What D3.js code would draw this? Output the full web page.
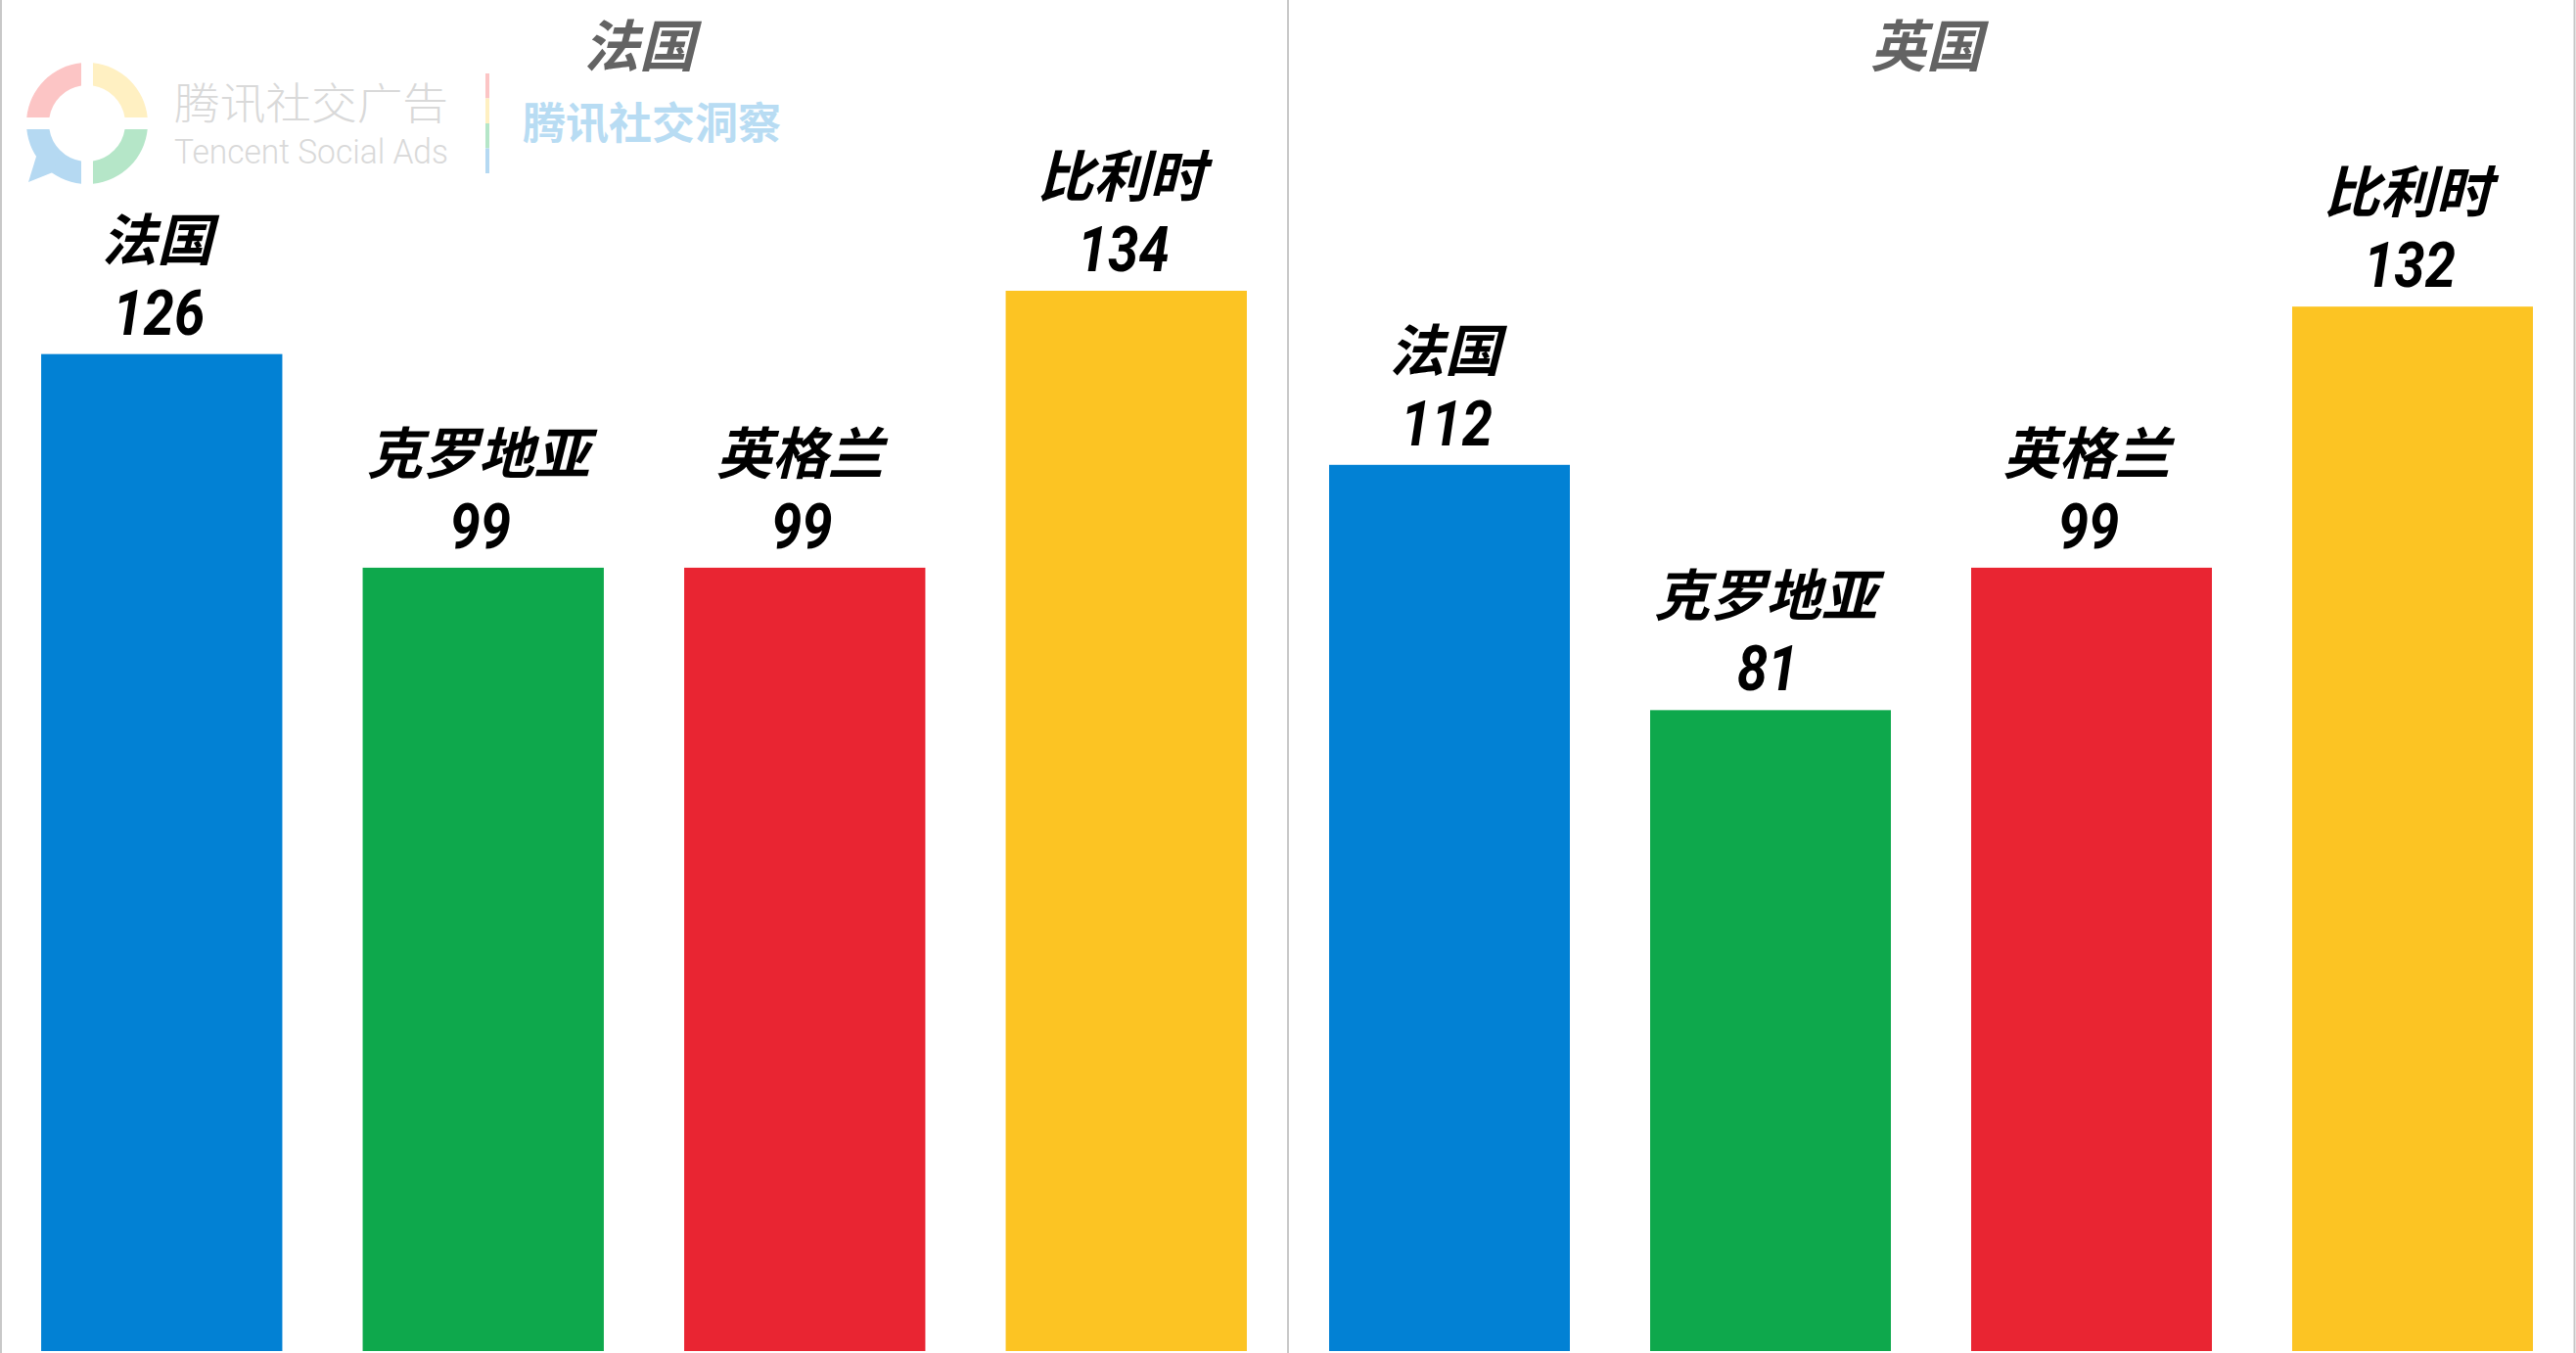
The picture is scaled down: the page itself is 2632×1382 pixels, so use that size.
<!DOCTYPE html>
<html>
<head>
<meta charset="utf-8">
<script src="https://cdn.jsdelivr.net/npm/d3@7"></script>
<style>
    html, body { margin: 0; padding: 0; background: #fff; overflow: hidden; }
    svg { display: block; }
</style>
</head>
<body>
<div id="visContainer"></div>
<script>
const panelTitles = ["法国", "英国"];
const categories = ["法国", "克罗地亚", "英格兰", "比利时"];
const franceValues = [126, 99, 99, 134];
const britainValues = [112, 81, 99, 132];
const barColors = ["#0281d4", "#0ea84c", "#e92532", "#fcc423"];
const ringColors = ["#fff0c2", "#b5e6c8", "#b5d9f2", "#fcc5c5"];
const stripColors = ["#fcc5c5", "#fff0c2", "#b5e6c8", "#b5d9f2"];

const width = 2632;
const height = 1382;
const cjk = "'Noto Sans CJK SC', 'Noto Sans', sans-serif";
const digits = "Roboto, sans-serif";

const svg = d3.select("#visContainer").append("svg")
    .attr("width", width)
    .attr("height", height)
    .attr("viewBox", `0 0 ${width} ${height}`);

const y = d3.scaleLinear()
    .domain([0, d3.max(franceValues)])
    .range([1380, 297]);

const color = d3.scaleOrdinal().domain(categories).range(barColors);

function drawPanel(title, values, x0, x1) {
    const x = d3.scaleBand()
        .domain(categories)
        .range([x0, x1])
        .padding(0.25)
        .paddingOuter(0.125);

    const rows = categories.map((c, i) => ({ name: c, value: values[i] }));
    const mid = d => x(d.name) + x.bandwidth() / 2;
    const g = svg.append("g");

    g.append("text")
        .attr("x", (x0 + x1) / 2 - 5)
        .attr("y", 68)
        .attr("text-anchor", "middle")
        .style("font", `italic bold 57px ${cjk}`)
        .style("fill", "#636363")
        .text(title);

    g.selectAll("rect")
        .data(rows)
        .join("rect")
        .attr("x", d => x(d.name))
        .attr("y", d => y(d.value))
        .attr("width", x.bandwidth())
        .attr("height", d => y(0) - y(d.value))
        .attr("fill", d => color(d.name));

    // category name above the number
    g.selectAll("text.cat")
        .data(rows)
        .join("text")
        .attr("class", "cat")
        .attr("x", d => mid(d) - 5)
        .attr("y", d => y(d.value) - 96)
        .attr("text-anchor", "middle")
        .style("font", `italic bold 57px ${cjk}`)
        .style("fill", "#000")
        .text(d => d.name);

    // digits in the picture are narrower than Roboto, so squeeze them
    g.selectAll("text.num")
        .data(rows)
        .join("text")
        .attr("class", "num")
        .attr("transform", d => `translate(${mid(d) - 3},${y(d.value) - 20}) scale(0.88,1)`)
        .attr("text-anchor", "middle")
        .style("font", `italic bold 64px ${digits}`)
        .style("fill", "#000")
        .text(d => d.value);
}

drawPanel(panelTitles[0], franceValues, 1, 1315);
drawPanel(panelTitles[1], britainValues, 1317, 2629);

// panel separators
svg.selectAll("line.sep")
    .data([1, 1316, 2630.5])
    .join("line")
    .attr("class", "sep")
    .attr("x1", d => d)
    .attr("x2", d => d)
    .attr("y1", 0)
    .attr("y2", height)
    .attr("stroke", "#c8c8c8")
    .attr("stroke-width", 2);

// watermark logo
const logo = svg.append("g");
const ringArc = d3.arc()
    .innerRadius(39)
    .outerRadius(62)
    .padAngle(0.12)
    .padRadius(100);

logo.append("g")
    .attr("transform", "translate(89,126)")
    .selectAll("path")
    .data(d3.pie().value(1).sort(null)(ringColors))
    .join("path")
    .attr("d", ringArc)
    .attr("fill", d => d.data);

logo.append("path")
    .attr("d", "M37,160L29,186L54,176L60,160Z")
    .attr("fill", ringColors[2]);

logo.append("text")
    .attr("x", 178)
    .attr("y", 122)
    .attr("textLength", 280)
    .attr("lengthAdjust", "spacingAndGlyphs")
    .style("font", `300 44px ${cjk}`)
    .style("fill", "#d9d9d9")
    .text("腾讯社交广告");

logo.append("text")
    .attr("x", 178)
    .attr("y", 167)
    .attr("textLength", 280)
    .attr("lengthAdjust", "spacingAndGlyphs")
    .style("font", "300 35px Roboto, sans-serif")
    .style("fill", "#d9d9d9")
    .text("Tencent Social Ads");

const stripY = d3.scaleBand()
    .domain(stripColors)
    .range([75, 177]);

logo.selectAll("rect")
    .data(stripColors)
    .join("rect")
    .attr("x", 496)
    .attr("y", d => stripY(d))
    .attr("width", 4)
    .attr("height", stripY.bandwidth())
    .attr("fill", d => d);

logo.append("text")
    .attr("x", 534)
    .attr("y", 142)
    .attr("textLength", 264)
    .style("font", `bold 44px ${cjk}`)
    .style("fill", "#b8dcf3")
    .text("腾讯社交洞察");
</script>
</body>
</html>
